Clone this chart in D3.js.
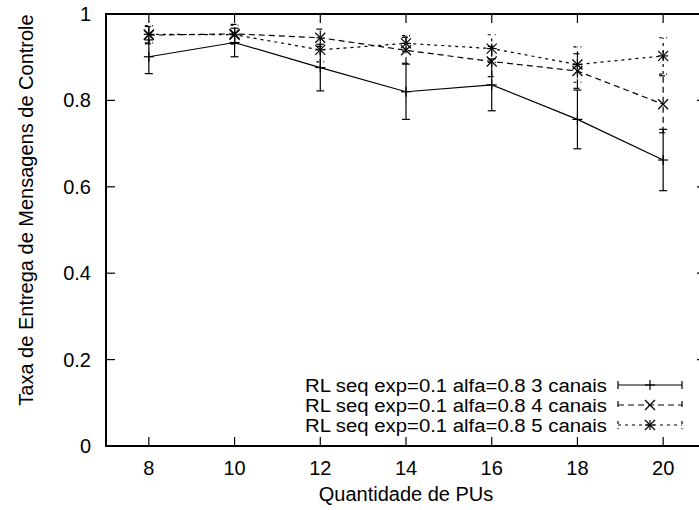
<!DOCTYPE html>
<html>
<head>
<script src="https://d3js.org/d3.v7.min.js"></script>
<style>
  body { margin: 0; background: #fff; }
  text { font-family: "Liberation Sans", Arial, sans-serif; fill: #000; }
</style>
</head>
<body>
<div id="chart"></div>
<script>
// data
const pus = [8, 10, 12, 14, 16, 18, 20];
const labels = [
  "RL seq exp=0.1 alfa=0.8 3 canais",
  "RL seq exp=0.1 alfa=0.8 4 canais",
  "RL seq exp=0.1 alfa=0.8 5 canais"
];
const mean3 = [0.901, 0.934, 0.876, 0.820, 0.836, 0.756, 0.662];
const err3  = [0.039, 0.033, 0.054, 0.064, 0.060, 0.068, 0.071];
const mean4 = [0.951, 0.954, 0.945, 0.916, 0.890, 0.868, 0.791];
const err4  = [0.020, 0.022, 0.020, 0.030, 0.035, 0.040, 0.066];
const mean5 = [0.953, 0.952, 0.917, 0.932, 0.920, 0.883, 0.903];
const err5  = [0.020, 0.022, 0.028, 0.018, 0.032, 0.041, 0.042];
const xTicks = [8, 10, 12, 14, 16, 18, 20];
const yTicks = [0, 0.2, 0.4, 0.6, 0.8, 1];

const W = 699, H = 510;
const margin = {top: 14, left: 106, right: -7, bottom: 64};
const fs = 20;

const svg = d3.select("#chart").append("svg")
  .attr("width", W).attr("height", H);

const x = d3.scaleLinear().domain([7, 21]).range([margin.left, W - margin.right]);
const y = d3.scaleLinear().domain([0, 1]).range([H - margin.bottom, margin.top]);

const tickLen = 9;
const axisG = svg.append("g").attr("stroke", "#000").attr("stroke-width", 1.2);

// ticks (mirrored, inward)
xTicks.forEach(t => {
  axisG.append("line").attr("x1", x(t)).attr("x2", x(t))
    .attr("y1", y(0)).attr("y2", y(0) - tickLen);
  axisG.append("line").attr("x1", x(t)).attr("x2", x(t))
    .attr("y1", y(1)).attr("y2", y(1) + tickLen);
});
yTicks.forEach(t => {
  axisG.append("line").attr("x1", x(7)).attr("x2", x(7) + tickLen)
    .attr("y1", y(t)).attr("y2", y(t));
  axisG.append("line").attr("x1", x(21)).attr("x2", x(21) - tickLen)
    .attr("y1", y(t)).attr("y2", y(t));
});

// frame
svg.append("rect")
  .attr("x", x(7)).attr("y", y(1))
  .attr("width", x(21) - x(7)).attr("height", y(0) - y(1))
  .attr("fill", "none").attr("stroke", "#000").attr("stroke-width", 2);

// tick labels
svg.selectAll(".xl").data(xTicks).enter().append("text")
  .attr("x", d => x(d)).attr("y", y(0) + 29)
  .attr("text-anchor", "middle").attr("font-size", fs)
  .text(d => d);
svg.selectAll(".yl").data(yTicks).enter().append("text")
  .attr("x", 91).attr("y", d => y(d) + 7)
  .attr("text-anchor", "end").attr("font-size", fs)
  .text(d => d);

// axis titles
svg.append("text")
  .attr("x", (x(7) + x(21)) / 2).attr("y", 501)
  .attr("text-anchor", "middle").attr("font-size", fs)
  .text("Quantidade de PUs");
svg.append("text")
  .attr("transform", "translate(33,210) rotate(-90)")
  .attr("text-anchor", "middle").attr("font-size", fs)
  .text("Taxa de Entrega de Mensagens de Controle");

const series = [
  {mean: mean3, err: err3, dash: null, marker: "plus"},
  {mean: mean4, err: err4, dash: "6,4", marker: "cross"},
  {mean: mean5, err: err5, dash: "3,4", marker: "star"}
];

function marker(g, cx, cy, type) {
  const s = 5;
  const p = g.append("g").attr("stroke", "#000").attr("stroke-width", 1.2);
  if (type === "plus" || type === "star") {
    p.append("line").attr("x1", cx - s).attr("x2", cx + s).attr("y1", cy).attr("y2", cy);
    p.append("line").attr("x1", cx).attr("x2", cx).attr("y1", cy - s).attr("y2", cy + s);
  }
  if (type === "cross" || type === "star") {
    p.append("line").attr("x1", cx - s).attr("x2", cx + s).attr("y1", cy - s).attr("y2", cy + s);
    p.append("line").attr("x1", cx - s).attr("x2", cx + s).attr("y1", cy + s).attr("y2", cy - s);
  }
}

const line = d3.line().x(d => x(d[0])).y(d => y(d[1]));
const cap = 4;

series.forEach(s => {
  const g = svg.append("g");
  const pts = pus.map((p, i) => [p, s.mean[i], s.err[i]]);
  g.append("path").datum(pts)
    .attr("d", line).attr("fill", "none").attr("stroke", "#000")
    .attr("stroke-width", 1.2).attr("stroke-dasharray", s.dash);
  pts.forEach(d => {
    const eb = g.append("g").attr("stroke", "#000").attr("stroke-width", 1.2)
      .attr("stroke-dasharray", s.dash);
    eb.append("line").attr("x1", x(d[0])).attr("x2", x(d[0]))
      .attr("y1", y(d[1] - d[2])).attr("y2", y(d[1] + d[2]));
    [d[1] - d[2], d[1] + d[2]].forEach(v => {
      eb.append("line").attr("x1", x(d[0]) - cap).attr("x2", x(d[0]) + cap)
        .attr("y1", y(v)).attr("y2", y(v));
    });
    marker(g, x(d[0]), y(d[1]), s.marker);
  });
});

// legend
const legY = [385, 405, 425];
series.forEach((s, i) => {
  const ly = legY[i];
  svg.append("text").attr("x", 607).attr("y", ly + 6.5)
    .attr("text-anchor", "end").attr("font-size", 18)
    .attr("textLength", 302).attr("lengthAdjust", "spacingAndGlyphs")
    .text(labels[i]);
  const lg = svg.append("g").attr("stroke", "#000").attr("stroke-width", 1.2)
    .attr("stroke-dasharray", s.dash);
  lg.append("line").attr("x1", 618).attr("x2", 682).attr("y1", ly).attr("y2", ly);
  lg.append("line").attr("x1", 618).attr("x2", 618).attr("y1", ly - 4).attr("y2", ly + 4);
  lg.append("line").attr("x1", 682).attr("x2", 682).attr("y1", ly - 4).attr("y2", ly + 4);
  marker(svg, 650, ly, s.marker);
});
</script>
</body>
</html>
